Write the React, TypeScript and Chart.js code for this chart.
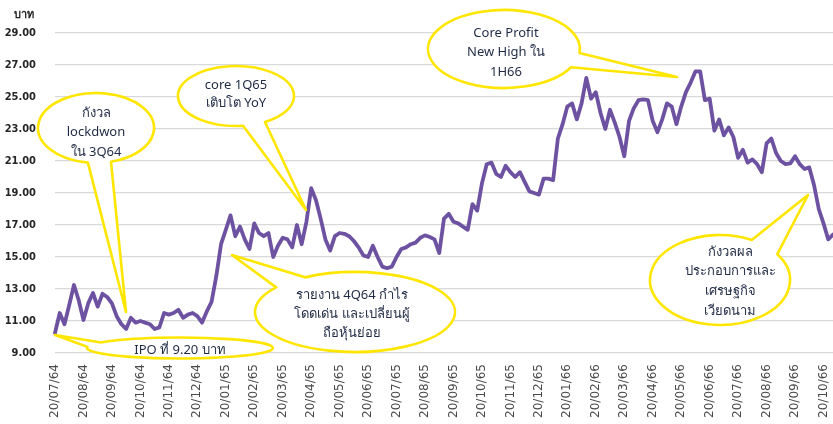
import React, { useEffect, useRef } from 'react';
import { Chart, registerables } from 'chart.js';

Chart.register(...registerables);

// Monthly tick labels (Thai Buddhist-era years)
const monthTicks = [
  '20/07/64', '20/08/64', '20/09/64', '20/10/64', '20/11/64', '20/12/64',
  '20/01/65', '20/02/65', '20/03/65', '20/04/65', '20/05/65', '20/06/65',
  '20/07/65', '20/08/65', '20/09/65', '20/10/65', '20/11/65', '20/12/65',
  '20/01/66', '20/02/66', '20/03/66', '20/04/66', '20/05/66', '20/06/66',
  '20/07/66', '20/08/66', '20/09/66', '20/10/66',
];
const samplesPerMonth = 6;

// Share price (baht), sampled ~6 times per month
const closePrice = [
  10.25, 11.5, 10.8, 12.0, 13.25, 12.3, 11.06, 12.1, 12.75, 11.9,
  12.7, 12.5, 12.1, 11.3, 10.8, 10.5, 11.2, 10.9, 11.0, 10.9,
  10.8, 10.5, 10.6, 11.5, 11.4, 11.5, 11.7, 11.2, 11.4, 11.5,
  11.3, 10.9, 11.6, 12.2, 13.8, 15.8, 16.7, 17.6, 16.3, 16.9,
  16.1, 15.5, 17.1, 16.5, 16.3, 16.5, 15.0, 15.7, 16.2, 16.1,
  15.6, 17.0, 15.8, 17.2, 19.3, 18.56, 17.4, 16.1, 15.4, 16.3,
  16.5, 16.45, 16.3, 16.0, 15.6, 15.1, 15.0, 15.7, 15.0, 14.4,
  14.3, 14.4, 15.0, 15.5, 15.6, 15.8, 15.9, 16.2, 16.35, 16.25,
  16.1, 15.25, 17.4, 17.7, 17.2, 17.1, 16.9, 16.7, 18.3, 17.9,
  19.6, 20.8, 20.9, 20.2, 20.0, 20.7, 20.3, 20.0, 20.3, 19.7,
  19.1, 19.0, 18.9, 19.9, 19.9, 19.8, 22.4, 23.3, 24.4, 24.6,
  23.6, 24.6, 26.2, 24.9, 25.3, 24.0, 23.0, 24.2, 23.4, 22.5,
  21.3, 23.5, 24.3, 24.8, 24.85, 24.8, 23.5, 22.8, 23.6, 24.6,
  24.4, 23.3, 24.4, 25.3, 25.9, 26.6, 26.6, 24.8, 24.9, 22.9,
  23.6, 22.6, 23.1, 22.5, 21.2, 21.7, 20.9, 21.1, 20.8, 20.3,
  22.1, 22.4, 21.5, 21.0, 20.8, 20.85, 21.3, 20.8, 20.5, 20.6,
  19.5, 18.0, 17.1, 16.1, 16.4,
];

const yMin = 9;
const yMax = 29;
const yStep = 2;
const yUnit = 'บาท';

// Speech-bubble annotations
const calloutTexts = [
  ['กังวล', 'lockdwon', 'ใน 3Q64'],
  ['core 1Q65', 'เติบโต YoY'],
  ['Core Profit', 'New High ใน', '1H66'],
  ['รายงาน 4Q64 กำไร', 'โดดเด่น และเปลี่ยนผู้', 'ถือหุ้นย่อย'],
  ['IPO ที่ 9.20 บาท'],
  ['กังวลผล', 'ประกอบการและ', 'เศรษฐกิจ', 'เวียดนาม'],
];
const calloutShapes = [
  { cx: 96, cy: 128, rx: 58, ry: 35, a1: 75, a2: 98, tip: [126, 312], tx: 96, ty: 113, lh: 19.5 },
  { cx: 236, cy: 96, rx: 58, ry: 30, a1: 60, a2: 83, tip: [306, 210], tx: 236, ty: 85, lh: 18 },
  { cx: 504, cy: 49, rx: 76, ry: 39, a1: 6, a2: 28, tip: [677, 77], tx: 506, ty: 33, lh: 19.5 },
  { cx: 355, cy: 312, rx: 100, ry: 40, a1: 218, a2: 240, tip: [232, 255], tx: 352, ty: 295, lh: 19 },
  { cx: 180, cy: 348, rx: 93, ry: 10.5, a1: 186, a2: 212, tip: [55, 335], tx: 180, ty: 350, lh: 18 },
  { cx: 720, cy: 280, rx: 70, ry: 45, a1: 297, a2: 325, tip: [808, 195], tx: 730, ty: 252, lh: 19.7 },
];

const calloutPlugin = {
  id: 'callouts',
  afterDraw(chart: any) {
    const ctx = chart.ctx as CanvasRenderingContext2D;
    calloutShapes.forEach((c) => {
      ctx.save();
      const t1 = (c.a1 * Math.PI) / 180;
      const t2 = (c.a2 * Math.PI) / 180;
      ctx.beginPath();
      ctx.ellipse(c.cx, c.cy, c.rx, c.ry, 0, t2, t1 + Math.PI * 2, false);
      ctx.lineTo(c.tip[0], c.tip[1]);
      ctx.closePath();
      ctx.fillStyle = '#ffffff';
      ctx.fill();
      ctx.lineWidth = 2.6;
      ctx.lineJoin = 'round';
      ctx.strokeStyle = '#ffe600';
      ctx.stroke();
      ctx.restore();
    });
    calloutShapes.forEach((c, idx) => {
      ctx.save();
      ctx.fillStyle = '#1f2a44';
      ctx.font = '13px "Noto Sans", "DejaVu Sans", sans-serif';
      ctx.textAlign = 'center';
      ctx.textBaseline = 'middle';
      calloutTexts[idx].forEach((line, j) => {
        ctx.fillText(line, c.tx, c.ty + j * c.lh);
      });
      ctx.restore();
    });
    // y unit label
    ctx.save();
    ctx.fillStyle = '#262626';
    ctx.font = 'bold 11px "Noto Sans", "DejaVu Sans", sans-serif';
    ctx.textAlign = 'center';
    ctx.textBaseline = 'middle';
    ctx.fillText(yUnit, 24, 15);
    ctx.restore();
  },
};

export default function App() {
  const canvasRef = useRef<HTMLCanvasElement | null>(null);

  useEffect(() => {
    const canvas = canvasRef.current;
    if (!canvas) return;
    const labels = closePrice.map((_, i) =>
      i % samplesPerMonth === 0 ? monthTicks[i / samplesPerMonth] ?? '' : ''
    );
    const chart = new Chart(canvas, {
      type: 'line',
      data: {
        labels,
        datasets: [
          {
            data: closePrice,
            borderColor: '#6d52a2',
            borderWidth: 3.8,
            pointRadius: 0,
            tension: 0,
            borderJoinStyle: 'round',
            borderCapStyle: 'round',
            fill: false,
          },
        ],
      },
      options: {
        responsive: false,
        animation: false,
        events: [],
        layout: { padding: { top: 33, left: 0, right: 0, bottom: 0 } },
        plugins: {
          legend: { display: false },
          tooltip: { enabled: false },
          title: { display: false },
        },
        scales: {
          x: {
            type: 'category',
            offset: false,
            grid: { display: false, drawTicks: false },
            border: { display: false },
            ticks: {
              autoSkip: false,
              maxRotation: 90,
              minRotation: 90,
              padding: 11,
              color: '#4a4a4a',
              font: { family: '"DejaVu Sans", sans-serif', size: 12 },
              callback: (_v: any, i: number) => labels[i],
            },
            afterFit: (s: any) => {
              s.height = 71;
              s.paddingLeft = 0;
              s.paddingRight = 0;
            },
          },
          y: {
            min: yMin,
            max: yMax,
            grid: { color: '#d9d9d9', lineWidth: 1.3, drawTicks: false },
            border: { display: false },
            ticks: {
              stepSize: yStep,
              padding: 19,
              color: '#262626',
              font: { family: '"Liberation Sans Narrow", "DejaVu Sans Condensed", "Liberation Sans", sans-serif', size: 11, weight: 'bold' },
              callback: (v: any) => Number(v).toFixed(2),
            },
            afterFit: (s: any) => {
              s.width = 55;
            },
          },
        },
      },
      plugins: [calloutPlugin],
    });
    return () => chart.destroy();
  }, []);

  return (
    <div style={{ position: 'fixed', left: 0, top: 0, width: 833, height: 424, background: '#fff' }}>
      <canvas ref={canvasRef} width={833} height={424} style={{ display: 'block' }} />
    </div>
  );
}
